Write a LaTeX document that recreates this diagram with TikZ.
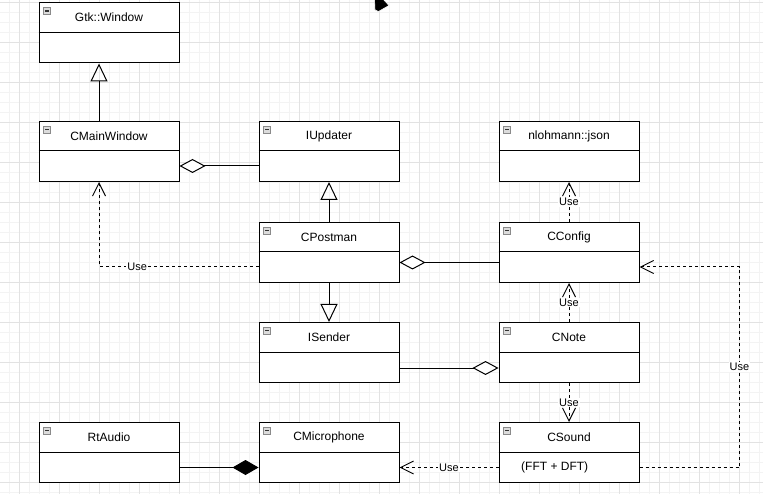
\documentclass[tikz,border=0pt]{standalone}
\usepackage{fontspec}
\setmainfont{Liberation Sans}
\usetikzlibrary{arrows.meta}

\definecolor{gridmajor}{HTML}{E2E2E2}
\definecolor{gridminor}{HTML}{F3F3F3}
\definecolor{iconedge}{HTML}{8A8A8A}
\definecolor{iconfill}{HTML}{DCDCDC}

\tikzset{
  classbox/.style={draw=black, line width=1pt, fill=white, minimum width=140pt,
    minimum height=60pt, inner sep=0pt},
  classtitle/.style={font=\fontsize{12}{14}\selectfont, inner sep=0pt},
  bodytext/.style={font=\fontsize{12}{14}\selectfont, inner sep=0pt, anchor=west},
  divider/.style={line width=1pt},
  iconframe/.style={draw=iconedge, fill=iconfill, line width=0.8pt},
  iconbar/.style={draw=black!80, line width=1.2pt},
  conn/.style={line width=1pt},
  gen/.style={conn, -{Triangle[open, length=18pt, width=17pt]}},
  agg/.style={conn, -{Diamond[fill=white, length=26pt, width=14pt]}},
  comp/.style={conn, -{Diamond[fill=black, length=26pt, width=15pt]}},
  use/.style={conn, dash pattern=on 3pt off 3pt,
    -{Straight Barb[length=13pt, width=13pt]}},
  uselabel/.style={font=\fontsize{11}{13}\selectfont, fill=white, inner sep=1pt},
}

% one UML class: name, centre, title
\newcommand\umlbox[3]{%
  \node[classbox] (#1) at (#2) {};
  \node[classtitle] (#1-t) at ([yshift=-15pt]#1.north) {#3};
  \draw[divider] ([yshift=-30pt]#1.north west) -- ([yshift=-30pt]#1.north east);
  \draw[iconframe] ([xshift=5pt,yshift=-5pt]#1.north west) rectangle ++(7pt,-7pt);
  \draw[iconbar] ([xshift=6.6pt,yshift=-8.5pt]#1.north west) -- ++(3.8pt,0pt);
}

\begin{document}
\begin{tikzpicture}[x=1pt, y=-1pt]
  % canvas
  \fill[white] (0,0) rectangle (763,494);
  \useasboundingbox (0,0) rectangle (763,494);

  % background grid
  \foreach \g in {9.3,19.3,...,763}
    \draw[gridminor, line width=0.8pt] (\g,0) -- (\g,494);
  \foreach \g in {2.3,12.3,...,494}
    \draw[gridminor, line width=0.8pt] (0,\g) -- (763,\g);
  \foreach \g in {19.3,59.3,...,763}
    \draw[gridmajor, line width=1pt] (\g,0) -- (\g,494);
  \foreach \g in {2.3,42.3,...,494}
    \draw[gridmajor, line width=1pt] (0,\g) -- (763,\g);

  % classes
  \umlbox{gtk}{109,33}{Gtk::Window}
  \umlbox{cmain}{109,151.5}{CMainWindow}
  \umlbox{iupd}{329,151.5}{IUpdater}
  \umlbox{json}{569,151.5}{nlohmann::json}
  \umlbox{cpost}{329,252.5}{CPostman}
  \umlbox{cconf}{569,252.5}{CConfig}
  \umlbox{isend}{329,352.5}{ISender}
  \umlbox{cnote}{569,352.5}{CNote}
  \umlbox{rtaud}{109,452.5}{RtAudio}
  \umlbox{cmic}{329,452.5}{CMicrophone}
  \umlbox{csnd}{569,452.5}{CSound}
  \node[bodytext] (csnd-b) at (521,467.5) {(FFT + DFT)};

  % inheritance
  \draw[gen] ([xshift=-10pt]cmain.north) -- ([xshift=-10pt]gtk.south);
  \draw[gen] (cpost.north) -- (iupd.south);
  \draw[gen] (cpost.south) -- (isend.north);

  % aggregation and composition
  \draw[agg] ([yshift=-14.5pt]iupd.west) -- ([yshift=-14.5pt]cmain.east);
  \draw[agg] ([yshift=-10pt]cconf.west) -- ([yshift=-10pt]cpost.east);
  \draw[agg] ([yshift=-15.5pt]isend.east) -- ([yshift=-15.5pt]cnote.west);
  \draw[comp] ([yshift=-15pt]rtaud.east) -- ([yshift=-15pt]cmic.west);

  % dependencies
  \draw[use] (cconf.north) -- node[uselabel] {Use} (json.south);
  \draw[use] (cnote.north) -- node[uselabel] {Use} (cconf.south);
  \draw[use] (cnote.south) -- node[uselabel] {Use} (csnd.north);
  \draw[use] ([yshift=-15pt]csnd.west) -- node[uselabel] {Use} ([yshift=-15pt]cmic.east);
  \draw[use] ([yshift=-14.5pt]cpost.west) -| node[uselabel, pos=0.38] {Use}
    ([xshift=-10pt]cmain.south);

  \coordinate (rail) at (739.5,0);
  \coordinate (sndout) at ([yshift=-15pt]csnd.east);
  \coordinate (cfgin) at ([yshift=-14.5pt]cconf.east);
  \draw[use] (sndout) -| node[uselabel, pos=0.75] {Use} (rail |- cfgin) -- (cfgin);

  % pointer
  \filldraw[fill=black, draw=white, line width=0.6pt]
    (374.5,-1) -- (383,-1) -- (389,5.5) -- (378.5,11.5) -- (375,10) -- cycle;
\end{tikzpicture}
\end{document}
